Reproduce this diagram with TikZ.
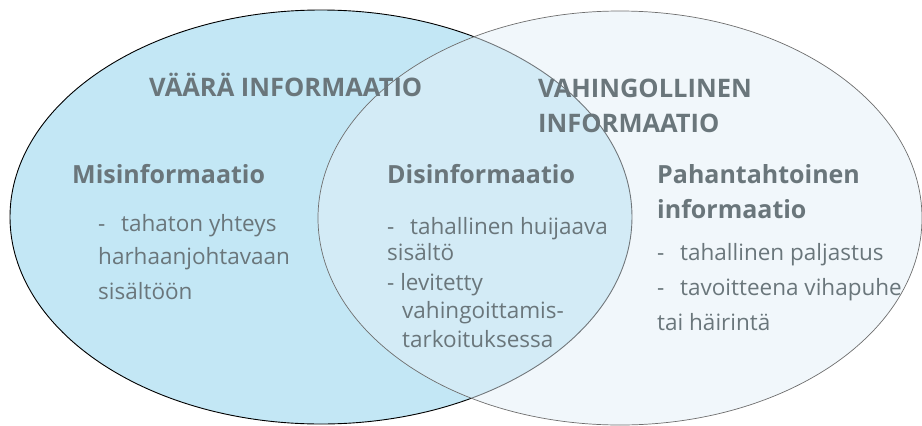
\documentclass[tikz,border=0pt]{standalone}
\usepackage{fontspec}
\setmainfont{Open Sans}
\usepackage{tikz}
\usetikzlibrary{positioning}
\usepackage{xcolor}
\definecolor{leftfill}{HTML}{C3E7F5}
\definecolor{rightfill}{HTML}{E3EFF7}
\definecolor{txtgray}{HTML}{6A767B}
\definecolor{rimgray}{HTML}{6E6E6E}

\begin{document}
\begin{tikzpicture}[x=1pt,y=-1pt,
        title node/.style={anchor=base west,inner sep=0pt,text=txtgray,font=\fontsize{25.5}{29}\selectfont\bfseries},
        head node/.style={anchor=base west,inner sep=0pt,text=txtgray,font=\fontsize{25}{29}\selectfont\bfseries},
        item node/.style={anchor=base west,inner sep=0pt,text=txtgray,font=\fontsize{22.5}{26}\selectfont}]

    \useasboundingbox (0,0) rectangle (922,426);

    % the two sets
    \filldraw[fill=leftfill,draw=black,line width=0.9pt] (321,217) ellipse [x radius=311,y radius=207];
    \filldraw[fill=rightfill,fill opacity=0.5,draw=rimgray,line width=0.7pt] (620,218) ellipse [x radius=302,y radius=207];

    \node[title node] (vaara) at (149,96) {VÄÄRÄ INFORMAATIO};
    \node[title node] (vahin1) at (538,97) {VAHINGOLLINEN};
    \node[title node] (vahin2) at (538,132) {INFORMAATIO};

    % left
    \node[head node] (mis) at (72,183) {Misinformaatio};
    \node[item node] (mis1) at (98,231) {-\hspace{0.7em}tahaton yhteys};
    \node[item node] (mis2) at (98,264) {harhaanjohtavaan};
    \node[item node] (mis3) at (98,299) {sisältöön};

    % middle
    \node[head node] (dis) at (387,183) {Disinformaatio};
    \node[item node] (dis1) at (387,234) {-\hspace{0.7em}tahallinen huijaava};
    \node[item node] (dis2) at (387,260) {sisältö};
    \node[item node] (dis3) at (387,290) {- levitetty};
    \node[item node] (dis4) at (402,318) {vahingoittamis-};
    \node[item node] (dis5) at (402,347) {tarkoituksessa};

    % right
    \node[head node] (mal1) at (657,183) {Pahantahtoinen};
    \node[head node] (mal2) at (657,218) {informaatio};
    \node[item node] (mal3) at (657,260) {-\hspace{0.7em}tahallinen paljastus};
    \node[item node] (mal4) at (657,295) {-\hspace{0.7em}tavoitteena vihapuhe};
    \node[item node] (mal5) at (657,330) {tai häirintä};

\end{tikzpicture}
\end{document}
